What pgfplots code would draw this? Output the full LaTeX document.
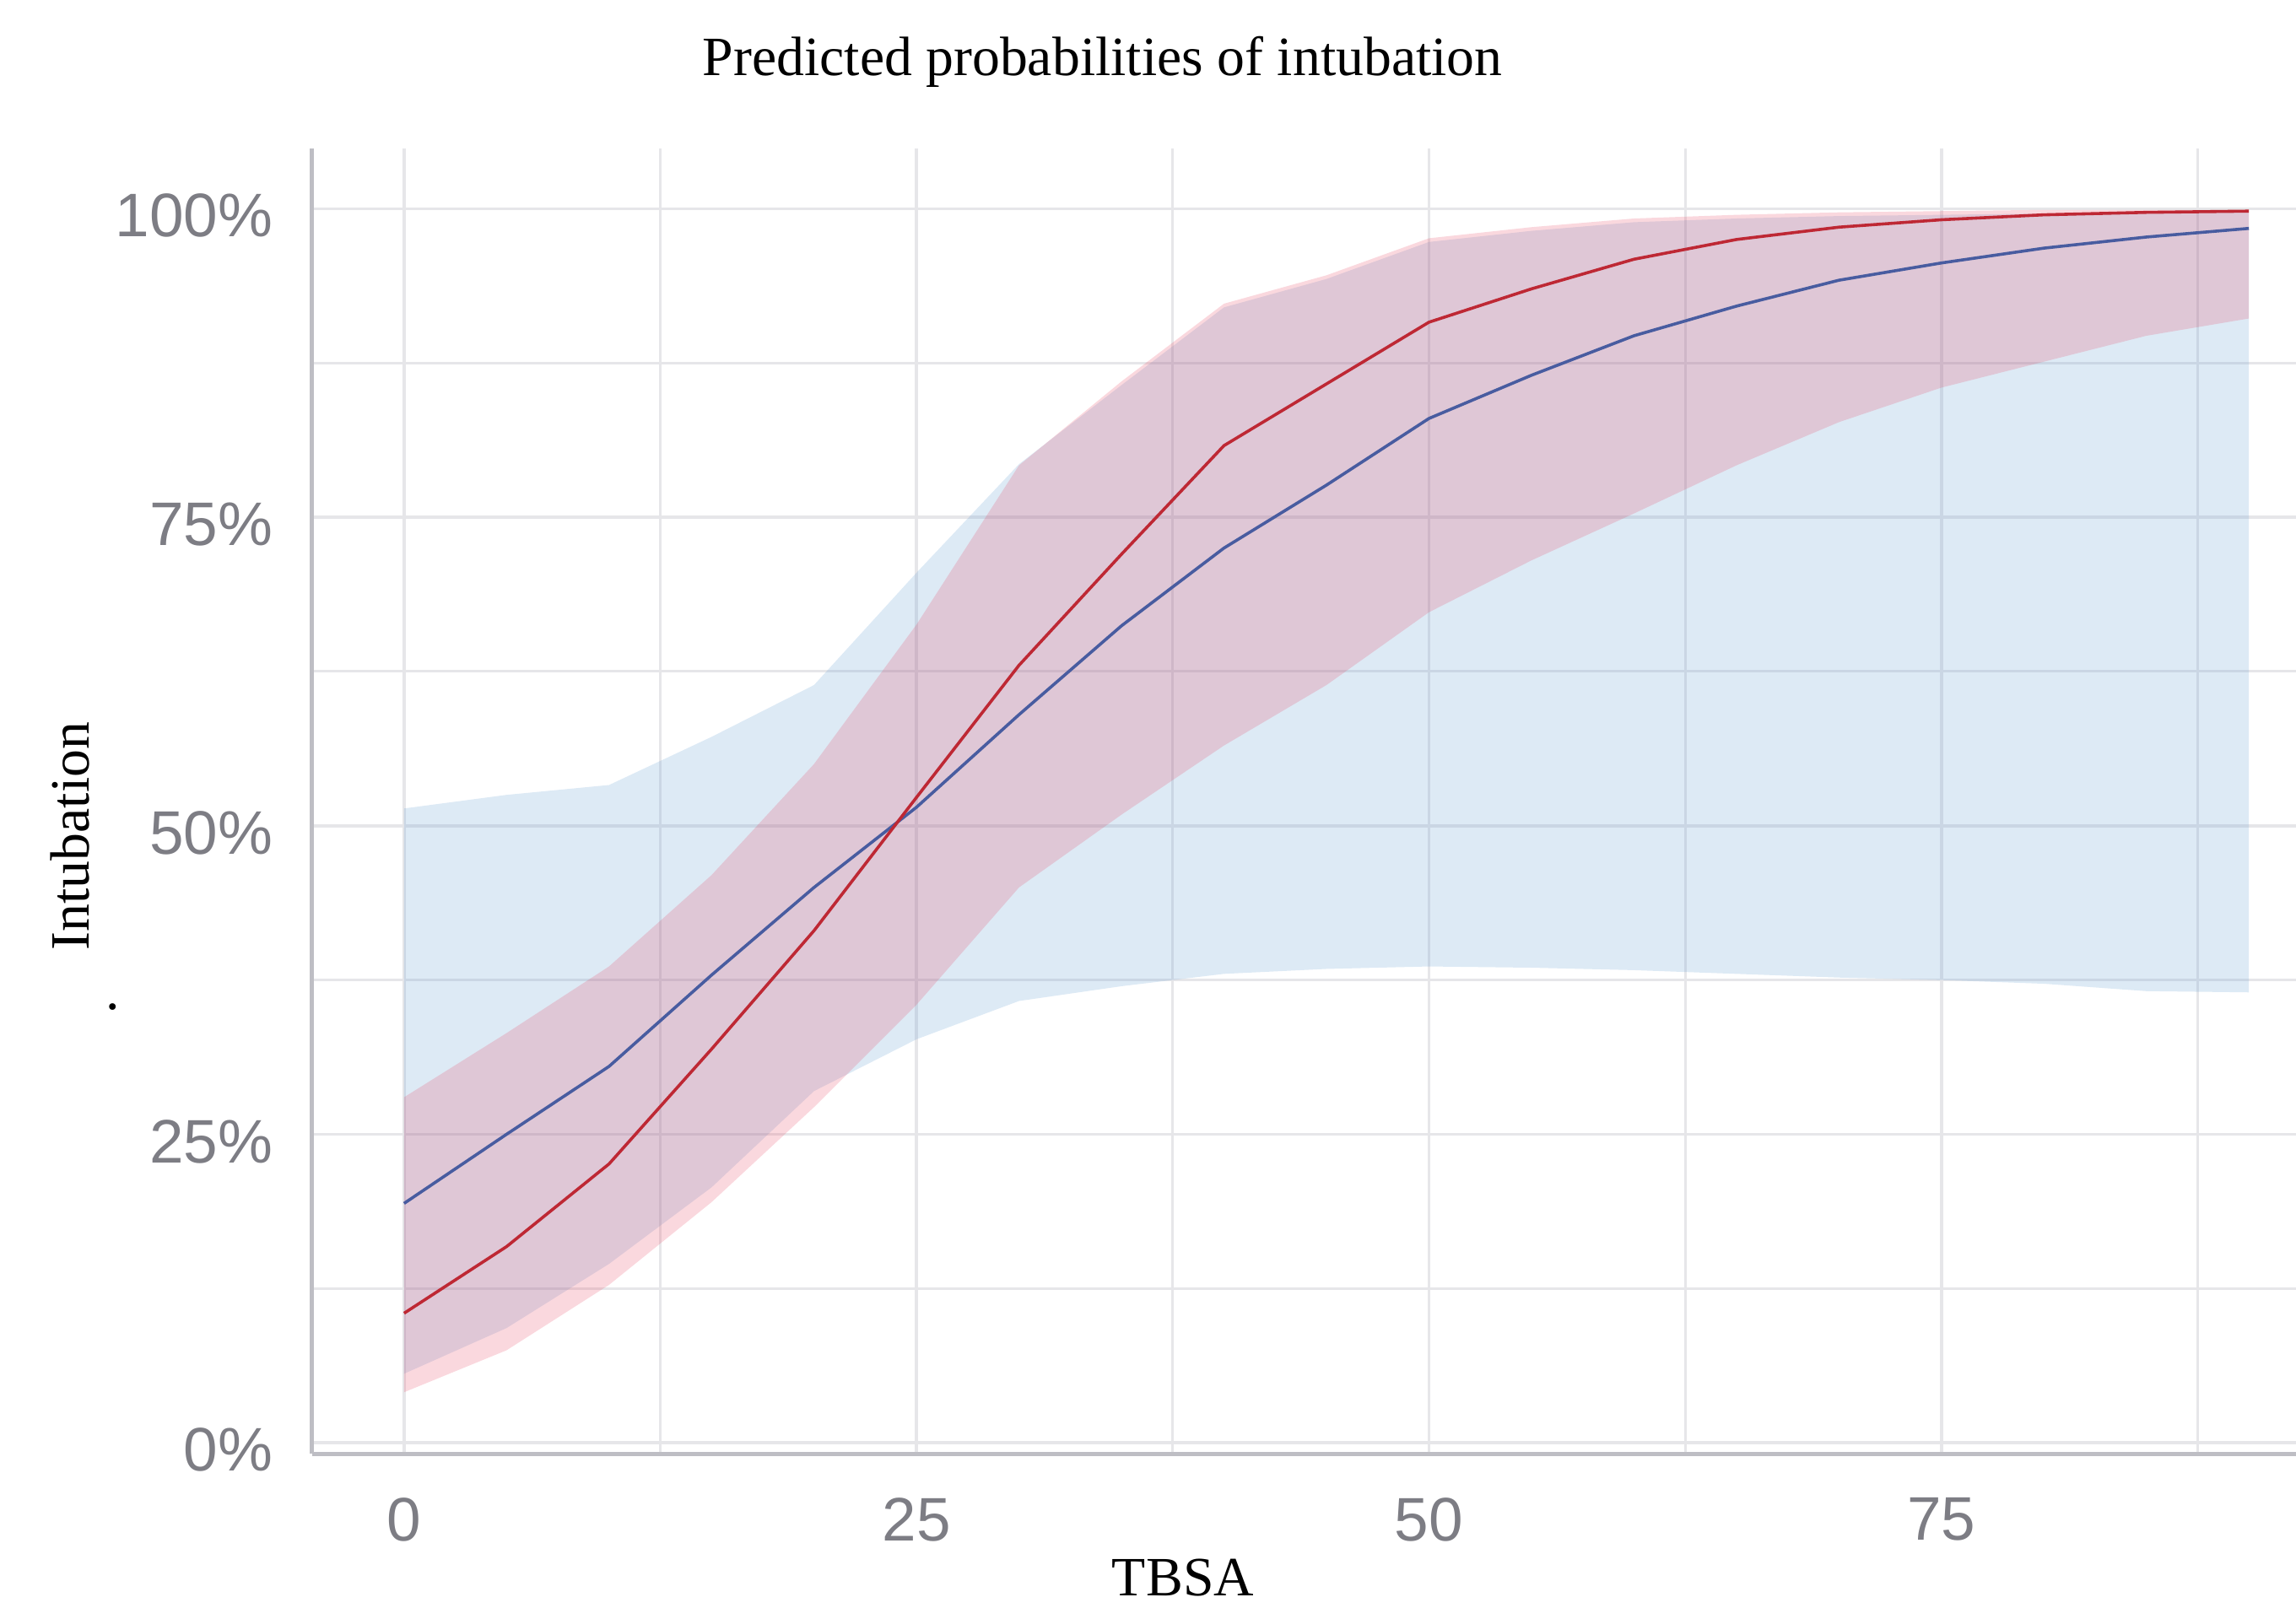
\documentclass[border=0pt]{standalone}
\usepackage{fontspec}
\setmainfont{Liberation Serif}
\newfontfamily\arialf{Liberation Sans}
\usepackage{pgfplots}
\usepackage{pgfplotstable}
\pgfplotsset{compat=1.18}
\usepgfplotslibrary{fillbetween}

\definecolor{gridc}{RGB}{230,230,233}
\definecolor{axisc}{RGB}{190,190,196}
\definecolor{tickc}{RGB}{125,125,132}
\definecolor{bandblue}{RGB}{120,170,215}
\definecolor{bandred}{RGB}{230,60,90}
\definecolor{linered}{RGB}{190,40,52}
\definecolor{lineblue}{RGB}{72,92,160}

% predicted probability and CI bounds
\pgfplotstableread{
x   rl    r     ru    bl    b     bu
0   0.041 0.105 0.280 0.056 0.194 0.514
5   0.075 0.159 0.332 0.093 0.250 0.525
10  0.128 0.226 0.386 0.145 0.305 0.533
15  0.195 0.319 0.460 0.207 0.379 0.572
20  0.272 0.415 0.550 0.285 0.450 0.614
25  0.355 0.523 0.663 0.327 0.515 0.705
30  0.450 0.630 0.792 0.358 0.590 0.793
35  0.509 0.720 0.860 0.370 0.662 0.857
40  0.565 0.808 0.923 0.380 0.725 0.920
45  0.614 0.858 0.946 0.384 0.776 0.943
50  0.673 0.908 0.976 0.386 0.830 0.973
55  0.715 0.935 0.985 0.385 0.865 0.982
60  0.753 0.959 0.992 0.383 0.897 0.989
65  0.792 0.975 0.995 0.380 0.921 0.992
70  0.827 0.985 0.997 0.377 0.942 0.994
75  0.855 0.991 0.998 0.375 0.956 0.995
80  0.876 0.995 0.999 0.372 0.968 0.996
85  0.897 0.997 0.999 0.366 0.977 0.997
90  0.911 0.998 0.999 0.365 0.984 0.997
}\pred

\begin{document}
\begin{tikzpicture}
\begin{axis}[
    scale only axis,
    width=13.827cm, height=9.101cm,
    xmin=-4.5, xmax=92.3,
    ymin=-0.009, ymax=1.049,
    xtick={0,25,50,75}, xticklabels={0,25,50,75},
    ytick={0,0.25,0.5,0.75,1},
    yticklabels={0\%,25\%,50\%,75\%,100\%},
    minor xtick={12.5,37.5,62.5,87.5},
    minor ytick={0.125,0.375,0.625,0.875},
    grid=both,
    major grid style={color=gridc, line width=0.6pt},
    minor grid style={color=gridc, line width=0.5pt},
    major tick length=0pt, minor tick length=0pt,
    axis x line*=bottom, axis y line*=left,
    axis line style={-, color=axisc, line width=0.8pt},
    tick label style={font=\arialf\fontsize{12.2}{14}\selectfont, color=tickc},
    xticklabel style={inner sep=0pt, yshift=-0.30cm},
    yticklabel style={inner sep=0pt, xshift=-0.265cm, yshift=-0.05cm},
]
\addplot[name path=bu, draw=none] table[x=x, y=bu] {\pred};
\addplot[name path=bl, draw=none] table[x=x, y=bl] {\pred};
\addplot[name path=ru, draw=none] table[x=x, y=ru] {\pred};
\addplot[name path=rl, draw=none] table[x=x, y=rl] {\pred};
\addplot[fill=bandblue, fill opacity=0.25, draw=none] fill between[of=bu and bl];
\addplot[fill=bandred, fill opacity=0.2, draw=none] fill between[of=ru and rl];
\addplot[lineblue, line width=0.6pt] table[x=x, y=b] {\pred};
\addplot[linered, line width=0.6pt] table[x=x, y=r] {\pred};
\end{axis}

\node[font=\fontsize{11}{13}\selectfont] at (5.510,9.705) {Predicted probabilities of intubation};
\node[font=\fontsize{11}{13}\selectfont, anchor=base] at (6.071,-0.99) {TBSA};
\node[font=\fontsize{11}{13}\selectfont, rotate=90, anchor=base] at (-1.551,4.307) {Intubation};
\node[font=\fontsize{11}{13}\selectfont, inner sep=0pt] at (-1.388,3.113) {.};

\pgfresetboundingbox
\path[use as bounding box] (-2.173,-1.070) rectangle (13.827,10.134);
\end{tikzpicture}
\end{document}
